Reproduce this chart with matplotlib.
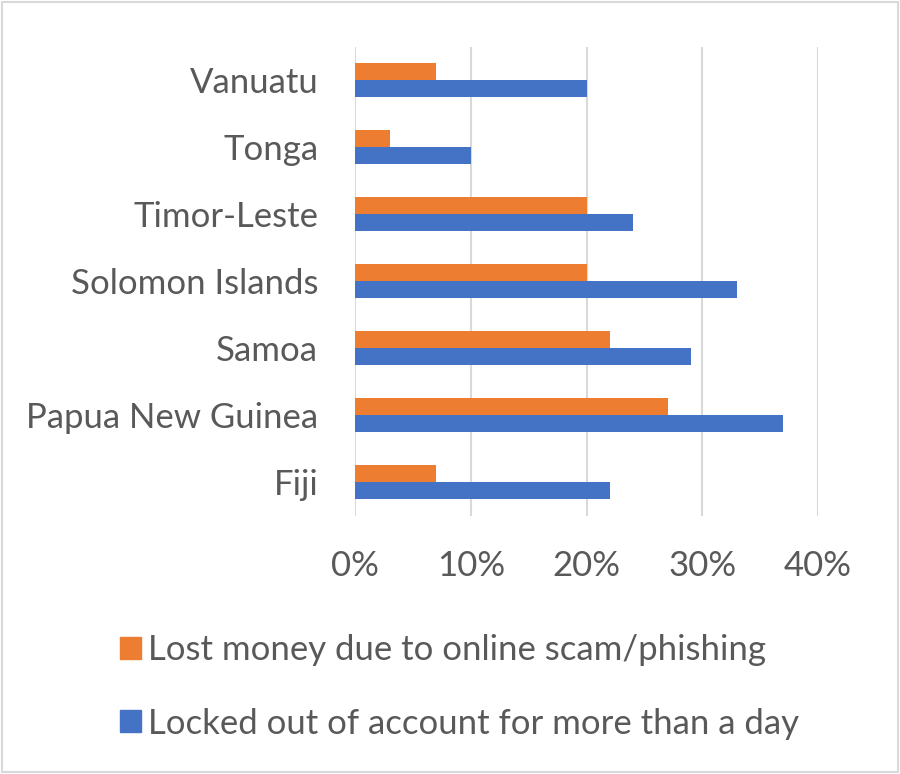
import numpy as np
import matplotlib
matplotlib.use('Agg')
import matplotlib.pyplot as plt
from matplotlib.patches import Patch, Rectangle
from matplotlib.ticker import FuncFormatter

# data (percent)
countries = ['Fiji', 'Papua New Guinea', 'Samoa', 'Solomon Islands', 'Timor-Leste', 'Tonga', 'Vanuatu']
lost_money = [7, 27, 22, 20, 20, 3, 7]
locked_out = [22, 37, 29, 33, 24, 10, 20]
series_names = ['Lost money due to online scam/phishing', 'Locked out of account for more than a day']
xticks = [0, 10, 20, 30, 40]

orange = '#ED7D31'
blue = '#4472C4'
grey_txt = '#595959'
grid_c = '#D9D9D9'

plt.rcParams['font.family'] = ['Lato', 'DejaVu Sans']

fig = plt.figure(figsize=(9, 7.74), dpi=100)
ax = fig.add_axes([355/900, 1 - 515.5/774, 463/900, 469/774])

y = np.arange(len(countries))
h = 0.26
ax.barh(y + h/2, lost_money, height=h, color=orange, zorder=3)
ax.barh(y - h/2, locked_out, height=h, color=blue, zorder=3)

ax.set_xlim(0, 40)
ax.set_ylim(-0.5, len(countries) - 0.5)
ax.set_xticks(xticks)
ax.xaxis.set_major_formatter(FuncFormatter(lambda v, p: '%d%%' % v))
ax.set_yticks(y)
ax.set_yticklabels(countries)
ax.grid(axis='x', color=grid_c, linewidth=1.5, zorder=0)
for s in ax.spines.values():
    s.set_visible(False)
ax.tick_params(axis='both', length=0, labelsize=25, labelcolor=grey_txt)
ax.tick_params(axis='x', pad=25)
ax.tick_params(axis='y', pad=26.5)

handles = [Patch(color=orange), Patch(color=blue)]
fig.legend(handles, series_names, loc='upper left', bbox_to_anchor=(120/900, 1 - 634/774),
           frameon=False, fontsize=25, labelcolor=grey_txt, borderpad=0, borderaxespad=0,
           handlelength=0.6, handleheight=0.6, handletextpad=0.22, labelspacing=1.2)

# thin border around the chart area
fig.patches.append(Rectangle((0.002, 0.002), 0.996, 0.996, transform=fig.transFigure,
                             fill=False, edgecolor=grid_c, linewidth=1.5))

fig.savefig('out.png', dpi=100)
